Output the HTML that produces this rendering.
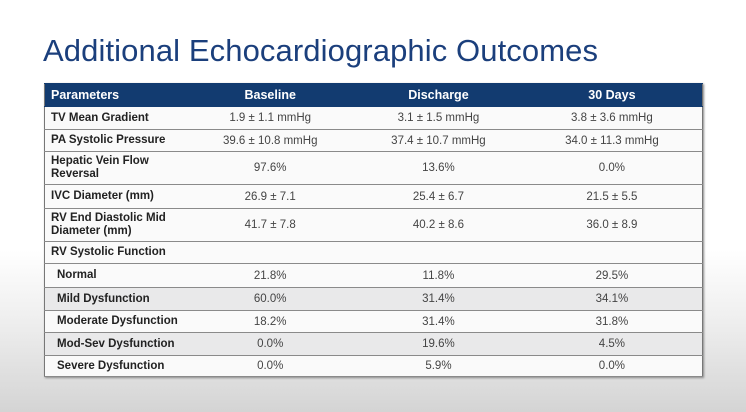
<!DOCTYPE html>
<html><head><style>
body{margin:0;width:746px;height:412px;overflow:hidden;background:linear-gradient(#fff 0,#fff 250px,#ececec 330px,#d4d4d4 412px);font-family:"Liberation Sans",sans-serif;position:relative}
h1{position:absolute;left:43px;top:33px;margin:0;font-weight:normal;font-size:31px;color:#1b3f7c;letter-spacing:0.1px}
table{position:absolute;left:44px;top:83px;width:659px;border-collapse:collapse;font-size:11.5px;color:#333;box-shadow:1px 1px 2px #888;border:1px solid #777}
td,th{border-top:1px solid #8a8a8a;border-bottom:1px solid #8a8a8a;border-left:none;border-right:none;padding:0 6px;text-align:center;color:#444}
td:first-child{text-align:left;font-weight:bold;color:#222;line-height:13px}
th{background:#123b70;color:#fff;font-weight:bold;font-size:12.5px;height:22px;border-color:#123b70}
th:first-child{text-align:left}
tr.g td{background:#e9e9ea}
tr.w td{background:#fafafa}
.in{padding-left:12px}
</style></head><body>
<h1>Additional Echocardiographic Outcomes</h1>
<table>
<colgroup><col style="width:141px"><col style="width:170px"><col style="width:167px"><col style="width:181px"></colgroup>
<tr><th>Parameters</th><th>Baseline</th><th>Discharge</th><th>30 Days</th></tr>
<tr class="w" style="height:23px"><td>TV Mean Gradient</td><td>1.9 ± 1.1 mmHg</td><td>3.1 ± 1.5 mmHg</td><td>3.8 ± 3.6 mmHg</td></tr>
<tr class="w" style="height:22px"><td>PA Systolic Pressure</td><td>39.6 ± 10.8 mmHg</td><td>37.4 ± 10.7 mmHg</td><td>34.0 ± 11.3 mmHg</td></tr>
<tr class="w" style="height:33px"><td>Hepatic Vein Flow Reversal</td><td>97.6%</td><td>13.6%</td><td>0.0%</td></tr>
<tr class="w" style="height:24px"><td>IVC Diameter (mm)</td><td>26.9 ± 7.1</td><td>25.4 ± 6.7</td><td>21.5 ± 5.5</td></tr>
<tr class="w" style="height:33px"><td>RV End Diastolic Mid Diameter (mm)</td><td>41.7 ± 7.8</td><td>40.2 ± 8.6</td><td>36.0 ± 8.9</td></tr>
<tr class="w" style="height:22px"><td>RV Systolic Function</td><td></td><td></td><td></td></tr>
<tr class="w" style="height:24px"><td class="in">Normal</td><td>21.8%</td><td>11.8%</td><td>29.5%</td></tr>
<tr class="g" style="height:23px"><td class="in">Mild Dysfunction</td><td>60.0%</td><td>31.4%</td><td>34.1%</td></tr>
<tr class="w" style="height:22px"><td class="in">Moderate Dysfunction</td><td>18.2%</td><td>31.4%</td><td>31.8%</td></tr>
<tr class="g" style="height:23px"><td class="in">Mod-Sev Dysfunction</td><td>0.0%</td><td>19.6%</td><td>4.5%</td></tr>
<tr class="w" style="height:21px"><td class="in">Severe Dysfunction</td><td>0.0%</td><td>5.9%</td><td>0.0%</td></tr>
</table>
</body></html>
